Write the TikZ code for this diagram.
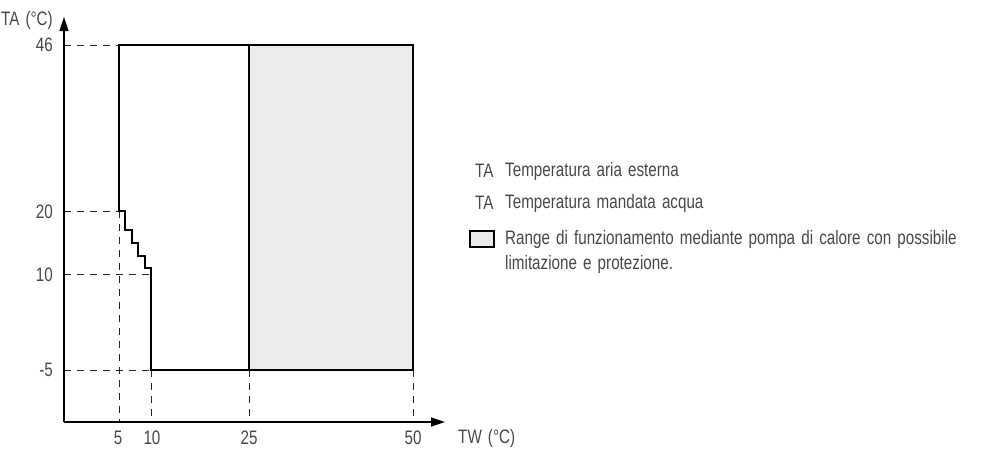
\documentclass[tikz,border=0pt]{standalone}
\usepackage{fontspec}
\setmainfont{Liberation Sans}[FakeStretch=0.78, WordSpace=1.45]
\usetikzlibrary{arrows.meta}
\definecolor{txt}{HTML}{484848}
\definecolor{fillg}{HTML}{EBEBEB}
\begin{document}
\begin{tikzpicture}[x=1pt,y=-1pt,
  lbl/.style={font=\fontsize{19.5}{22}\selectfont, text=txt, inner sep=0pt},
  guide/.style={dash pattern=on 7pt off 6pt, line width=1pt, draw=black!85},
  frame/.style={line width=1.8pt, line join=miter},
  axis/.style={line width=1.5pt, -{Triangle[length=14pt,width=9pt]}}]
\useasboundingbox (0,0) rectangle (987,448);
% key points
\coordinate (O) at (64,422);
\coordinate (ytip) at (64,17);
\coordinate (xtip) at (445,422);
\coordinate (y46) at (64,45);
\coordinate (y20) at (64,211);
\coordinate (y10) at (64,274);
\coordinate (ym5) at (64,370);
\coordinate (x5) at (119,422);
\coordinate (x10) at (151,422);
\coordinate (x25) at (249,422);
\coordinate (x50) at (413,422);
\coordinate (a) at (119,45);
\coordinate (b) at (413,45);
\coordinate (c) at (413,370);
\coordinate (d) at (151,370);
\coordinate (e) at (119,211);
\coordinate (f) at (151,274);
\coordinate (g) at (249,45);
\coordinate (h) at (249,370);
% grey range
\fill[fillg] (g) rectangle (c);
% guides
\draw[guide] (y46) -- (a);
\draw[guide] (y20) -- (e);
\draw[guide] (y10) -- (f);
\draw[guide] (ym5) -- (d);
\draw[guide] (e) -- (x5);
\draw[guide] (d) -- (x10);
\draw[guide] (h) -- (x25);
\draw[guide] (c) -- (x50);
% frame
\draw[frame] (a) -- (b) -- (c) -- (d) -- (151,268) -- (145,268) -- (145,256) -- (138,256)
  -- (138,243) -- (132,243) -- (132,230) -- (125,230) -- (125,211) -- (e) -- cycle;
\draw[frame] (g) -- (h);
% axes
\draw[axis] (O) -- (ytip);
\draw[axis] (O) -- (xtip);
% axis labels
\node[lbl, anchor=east] (ta) at (53,20) {TA (°C)};
\node[lbl, anchor=east] (l46) at (53,45) {46};
\node[lbl, anchor=east] (l20) at (53,212) {20};
\node[lbl, anchor=east] (l10) at (53,275) {10};
\node[lbl, anchor=east] (lm5) at (53,370) {-5};
\node[lbl] (l5) at (118,438) {5};
\node[lbl] (l10x) at (152,438) {10};
\node[lbl] (l25) at (249,438) {25};
\node[lbl] (l50) at (413,438) {50};
\node[lbl, anchor=west] (tw) at (458,438) {TW (°C)};
% legend
\node[lbl, anchor=west] (k1) at (475,171) {TA};
\node[lbl, anchor=west] (t1) at (505,171) {Temperatura aria esterna};
\node[lbl, anchor=west] (k2) at (475,203) {TA};
\node[lbl, anchor=west] (t2) at (505,203) {Temperatura mandata acqua};
\draw[fill=fillg, line width=1.3pt] (470,231) rectangle (494,247);
\node[lbl, anchor=west] (t3) at (505,239) {Range di funzionamento mediante pompa di calore con possibile};
\node[lbl, anchor=west] (t4) at (505,264) {limitazione e protezione.};
\end{tikzpicture}
\end{document}
